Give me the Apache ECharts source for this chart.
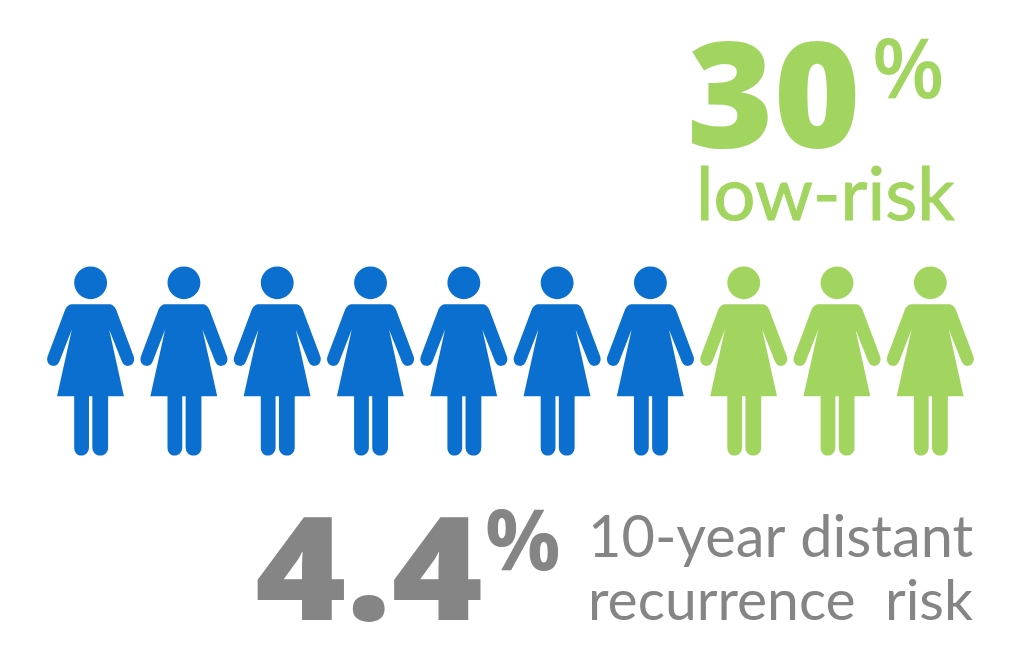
<!DOCTYPE html>
<html><head><meta charset="utf-8">
<style>html,body{margin:0;padding:0;background:#fff}#c{width:1024px;height:672px}</style>
<script src="https://cdn.jsdelivr.net/npm/echarts@6/dist/echarts.min.js"></script>
</head><body><div id="c"></div>
<script>
const people = ['1','2','3','4','5','6','7','8','9','10'];
const recurrenceFree = [1,1,1,1,1,1,1,null,null,null];
const lowRisk = [null,null,null,null,null,null,null,1,1,1];
const figure = 'path://M183 33C210 33 232 55 232 82C232 109 210 131 183 131C156 131 134 109 134 82C134 55 156 33 183 33Z' +
 'M130 146L236 146C248 146 254 152 259 163L311 302C316 316 308 330 295 331C286 332 280 327 276 318L238 222L282 422L235 422L235 575C235 590 226 600 212 600C198 600 188 590 188 575L188 422L178 422L178 575C178 590 168 600 155 600C142 600 134 590 134 575L134 422L83 422L127 222L90 318C86 327 80 332 71 331C58 330 50 316 55 302L107 163C112 152 118 146 130 146Z';
const blue = '#0a6fce', green = '#a2d55f', gray = '#858585';
function txt(text,x,y,size,color,weight,family,stroke,sx){
  return {type:'text',x:x,y:y,scaleX:sx||1,style:{text:text,x:0,y:0,fill:color,font:weight+' '+size+'px '+family,
    align:'left',verticalAlign:'middle',stroke:stroke?color:null,lineWidth:stroke||0}};
}
const OS = '"Open Sans", sans-serif', LA = 'Lato, sans-serif';
const chart = echarts.init(document.getElementById('c'));
const pic = {type:'scatter',symbol:figure,symbolSize:[87,189],silent:true,animation:false};
chart.setOption({
  animation:false,
  backgroundColor:'#fff',
  grid:{left:44,right:47,top:268,height:186},
  xAxis:{type:'category',data:people,show:false},
  yAxis:{type:'value',min:0,max:2,show:false},
  series:[
    Object.assign({},pic,{name:'No recurrence',data:recurrenceFree,itemStyle:{color:blue,opacity:1}}),
    Object.assign({},pic,{name:'Low-risk',data:lowRisk,itemStyle:{color:green,opacity:1}})
  ],
  graphic:[
    txt('30',687,106,148,green,'800',OS,0),
    txt('%',872,74,84,green,'600',OS,0),
    txt('low-risk',696,196,74,green,'normal',LA,1),
    txt('4.4',255,579,143,gray,'800',OS,0,1.09),
    txt('%',485,546,84,gray,'700',OS,0),
    txt('10-year distant',588,538,57.7,gray,'normal',LA,0),
    txt('recurrence  risk',588,602,57,gray,'normal',LA,0)
  ]
});
</script></body></html>
